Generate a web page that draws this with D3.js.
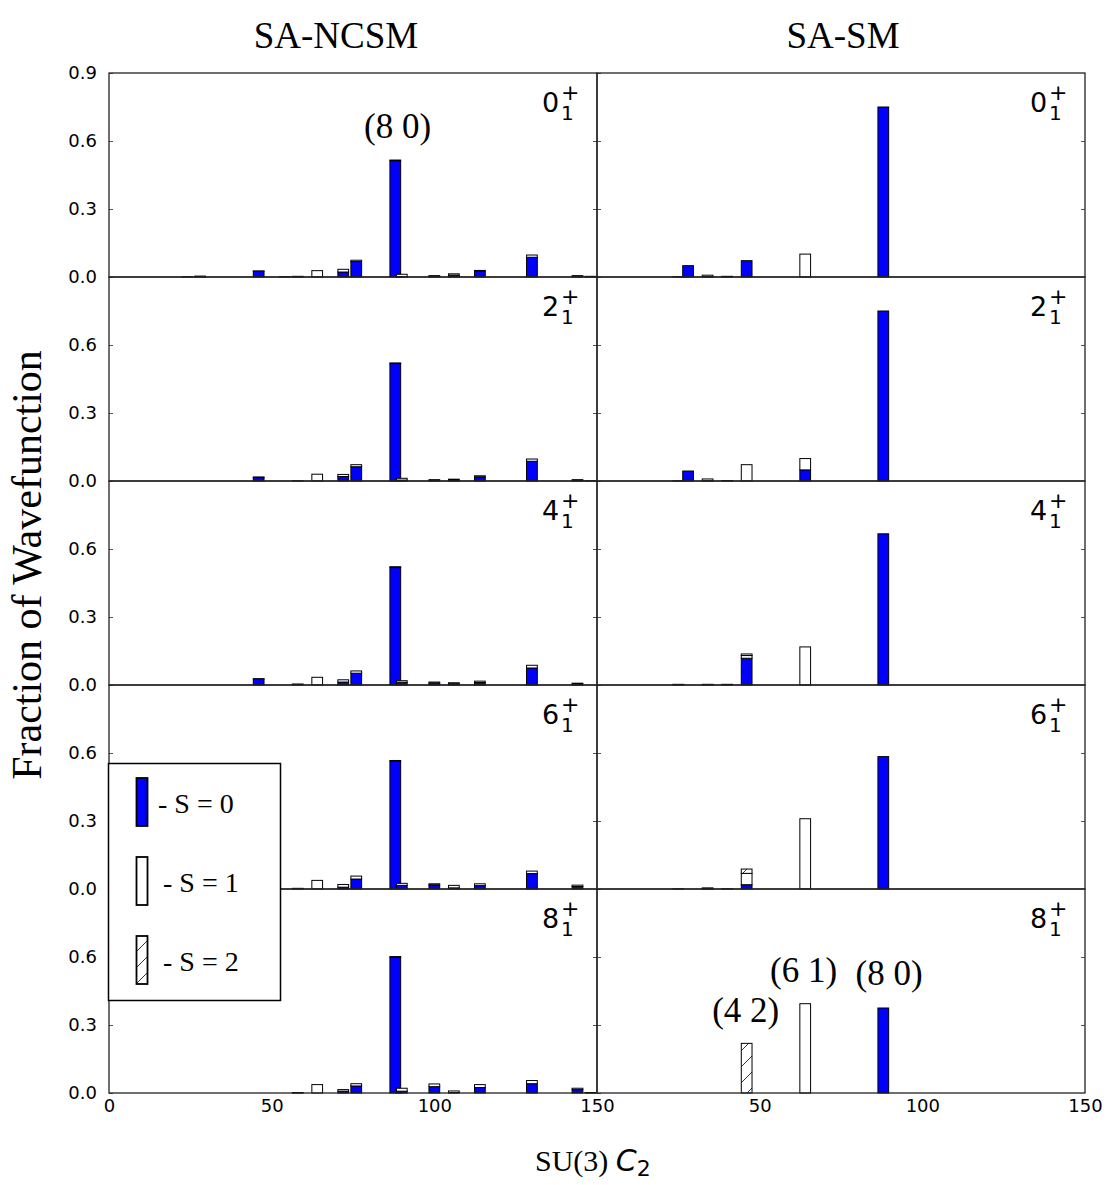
<!DOCTYPE html>
<html>
<head>
<meta charset="utf-8">
<script src="https://cdn.jsdelivr.net/npm/d3@7"></script>
<style>
  body { margin: 0; background: #fff; }
  svg { display: block; }
  .tick text { font-family: "DejaVu Sans", sans-serif; font-size: 18px; fill: #000; }
  .tick line { stroke: #555; }
</style>
</head>
<body>
<svg id="chart"></svg>
<script>
// SU(3) C2 values of the basis irreps shown in each column
const ncsmC2 = [24, 28, 46, 54, 58, 64, 72, 76, 88, 90, 100, 106, 114, 130, 144, 148];
const smC2 = [25, 28, 34, 40, 46, 64, 88];

const columns = ["SA-NCSM", "SA-SM"];
const states = ["0", "2", "4", "6", "8"];

// fractions per state (rows 0+,2+,4+,6+,8+), aligned with ncsmC2
const ncsmS0 = [
  [0.001, 0.002, 0.025, 0.001, 0.002, 0, 0.022, 0.068, 0.513, 0.002, 0.003, 0.008, 0.027, 0.087, 0.003, 0.002],
  [0, 0, 0.015, 0, 0.001, 0, 0.020, 0.063, 0.518, 0.004, 0.002, 0.004, 0.018, 0.087, 0.002, 0.001],
  [0, 0, 0.026, 0, 0.003, 0, 0.013, 0.052, 0.518, 0.012, 0.008, 0.005, 0.011, 0.075, 0.004, 0],
  [0, 0, 0.020, 0, 0.002, 0, 0.008, 0.044, 0.563, 0.016, 0.018, 0.005, 0.015, 0.068, 0.011, 0],
  [0, 0, 0, 0, 0.001, 0, 0.008, 0.031, 0.598, 0.008, 0.028, 0.002, 0.024, 0.041, 0.015, 0.001]
];
const ncsmS1 = [
  [0, 0.002, 0.002, 0, 0.001, 0.028, 0.012, 0.006, 0.003, 0.010, 0.003, 0.006, 0.002, 0.010, 0.003, 0.001],
  [0, 0, 0.003, 0, 0, 0.030, 0.009, 0.009, 0.003, 0.008, 0.004, 0.004, 0.005, 0.010, 0.004, 0],
  [0, 0, 0.002, 0, 0.001, 0.034, 0.010, 0.010, 0.004, 0.007, 0.005, 0.005, 0.006, 0.012, 0.004, 0],
  [0, 0, 0.003, 0, 0.001, 0.038, 0.012, 0.013, 0.004, 0.009, 0.005, 0.011, 0.008, 0.011, 0.006, 0],
  [0, 0, 0, 0, 0.001, 0.037, 0.007, 0.010, 0.004, 0.013, 0.012, 0.007, 0.013, 0.014, 0.006, 0.001]
];
const ncsmS2 = [
  [0, 0, 0, 0, 0, 0, 0, 0, 0, 0, 0, 0, 0, 0, 0, 0],
  [0, 0, 0, 0, 0, 0, 0, 0, 0, 0, 0, 0, 0, 0, 0, 0],
  [0, 0, 0, 0, 0, 0, 0, 0, 0, 0, 0, 0, 0, 0, 0, 0],
  [0, 0, 0, 0, 0, 0, 0, 0, 0, 0, 0, 0, 0, 0, 0, 0],
  [0, 0, 0, 0, 0, 0, 0, 0, 0, 0, 0, 0, 0, 0, 0, 0]
];

const smS0 = [
  [0.001, 0.050, 0.002, 0.003, 0.072, 0, 0.750],
  [0.001, 0.044, 0.001, 0.002, 0, 0.049, 0.750],
  [0.002, 0, 0.002, 0.002, 0.118, 0, 0.667],
  [0.001, 0, 0.001, 0.001, 0.019, 0, 0.584],
  [0, 0, 0, 0, 0, 0, 0.375]
];
const smS1 = [
  [0, 0, 0.006, 0, 0, 0.101, 0],
  [0, 0, 0.008, 0, 0.072, 0.050, 0],
  [0.001, 0, 0.001, 0.001, 0.012, 0.168, 0],
  [0, 0, 0.004, 0, 0.050, 0.310, 0],
  [0, 0, 0, 0, 0, 0.394, 0]
];
const smS2 = [
  [0, 0, 0, 0, 0, 0, 0],
  [0, 0, 0, 0, 0, 0, 0],
  [0, 0, 0, 0, 0.007, 0, 0],
  [0, 0, 0, 0, 0.019, 0, 0],
  [0, 0, 0, 0, 0.219, 0, 0]
];

// irrep labels: [text, column, row, C2, fraction]
const irrepLabels = [
  ["(8 0)", 0, 0, 88.7, 0.612],
  ["(4 2)", 1, 4, 45.7, 0.315],
  ["(6 1)", 1, 4, 63.5, 0.491],
  ["(8 0)", 1, 4, 89.8, 0.476]
];

const legendItems = ["- S = 0", "- S = 1", "- S = 2"];

// layout
const width = 1110;
const height = 1185;
const colLeft = [109, 597];
const colWidth = 488;
const titleX = [336, 843];
const rowTop = 73;
const rowHeight = 204;
const barWidth = 3.3;
const keys = ["s0", "s1", "s2"];
const fills = { s0: "#0000ff", s1: "#ffffff", s2: "url(#hatch)" };
const serif = "Liberation Serif, Times New Roman, serif";

const svg = d3.select("#chart").attr("width", width).attr("height", height);

const defs = svg.append("defs");
const hatch = defs.append("pattern")
  .attr("id", "hatch")
  .attr("patternUnits", "userSpaceOnUse")
  .attr("width", 16)
  .attr("height", 16);
hatch.append("rect").attr("width", 16).attr("height", 16).attr("fill", "#fff");
hatch.append("path")
  .attr("d", "M0,16 L16,0 M-4,4 L4,-4 M12,20 L20,12")
  .attr("stroke", "#333")
  .attr("stroke-width", 1);

const stack = d3.stack().keys(keys);

const panelData = (col, row) => {
  const c2 = col === 0 ? ncsmC2 : smC2;
  const s0 = col === 0 ? ncsmS0[row] : smS0[row];
  const s1 = col === 0 ? ncsmS1[row] : smS1[row];
  const s2 = col === 0 ? ncsmS2[row] : smS2[row];
  return c2.map((c, i) => ({ c2: c, s0: s0[i], s1: s1[i], s2: s2[i] }));
};

const scales = {};

columns.forEach((name, col) => {
  const x = d3.scaleLinear()
    .domain([0, 150])
    .range([colLeft[col], colLeft[col] + colWidth]);

  states.forEach((st, row) => {
    const top = rowTop + row * rowHeight;
    const y = d3.scaleLinear().domain([0, 0.9]).range([top + rowHeight, top]);
    scales[col + "-" + row] = { x, y };

    const g = svg.append("g").attr("class", "panel");

    // bars
    const series = stack(panelData(col, row));
    series.forEach((s) => {
      g.append("g")
        .selectAll("rect")
        .data(s.filter((d) => d[1] - d[0] > 0))
        .enter()
        .append("rect")
        .attr("x", (d) => x(d.data.c2 - barWidth / 2))
        .attr("width", (d) => x(barWidth) - x(0))
        .attr("y", (d) => y(d[1]))
        .attr("height", (d) => y(d[0]) - y(d[1]))
        .attr("fill", fills[s.key])
        .attr("stroke", "#000")
        .attr("stroke-width", 1);
    });

    // y axes (inward ticks on both sides)
    const yTicks = row === 0 ? [0, 0.3, 0.6, 0.9] : [0, 0.3, 0.6];
    const left = d3.axisLeft(y)
      .tickValues(yTicks)
      .tickSize(-4)
      .tickPadding(12)
      .tickFormat(col === 0 ? d3.format(".1f") : () => "");
    g.append("g")
      .attr("transform", "translate(" + x.range()[0] + ",0)")
      .call(left)
      .call((a) => a.select(".domain").remove());
    g.append("g")
      .attr("transform", "translate(" + x.range()[1] + ",0)")
      .call(d3.axisRight(y).tickValues([0.3, 0.6]).tickSize(-4).tickFormat(() => ""))
      .call((a) => a.select(".domain").remove());

    // x axis on the bottom row
    if (row === states.length - 1) {
      g.append("g")
        .attr("transform", "translate(0," + (top + rowHeight) + ")")
        .call(d3.axisBottom(x)
          .tickValues(col === 0 ? [0, 50, 100, 150] : [50, 100, 150])
          .tickSize(0)
          .tickPadding(6))
        .call((a) => a.select(".domain").remove());
    }

    // frame
    g.append("rect")
      .attr("x", x.range()[0])
      .attr("y", top)
      .attr("width", colWidth)
      .attr("height", rowHeight)
      .attr("fill", "none")
      .attr("stroke", "#222")
      .attr("stroke-width", 1.3);

    // state label J_1^+ as one text with sub/superscript
    const lx = x.range()[1] - 55;
    const lab = g.append("text")
      .attr("x", lx)
      .attr("y", top + 38.5)
      .attr("font-family", "DejaVu Sans, sans-serif")
      .attr("font-size", 27)
      .attr("fill", "#000");
    lab.append("tspan").text(st);
    lab.append("tspan")
      .attr("x", lx + 19)
      .attr("y", top + 47)
      .attr("font-size", 20)
      .text("1");
    lab.append("tspan")
      .attr("x", lx + 19)
      .attr("y", top + 27)
      .attr("font-size", 22)
      .text("+");
  });

  // column title
  svg.append("text")
    .attr("x", titleX[col])
    .attr("y", 48)
    .attr("text-anchor", "middle")
    .attr("font-family", serif)
    .attr("font-size", 37)
    .text(name);
});

// irrep annotations
irrepLabels.forEach(([t, col, row, c2, v]) => {
  const s = scales[col + "-" + row];
  svg.append("text")
    .attr("x", s.x(c2))
    .attr("y", s.y(v))
    .attr("text-anchor", "middle")
    .attr("font-family", serif)
    .attr("font-size", 35)
    .text(t);
});

// axis titles
svg.append("text")
  .attr("transform", "translate(41,565) rotate(-90)")
  .attr("text-anchor", "middle")
  .attr("font-family", serif)
  .attr("font-size", 42)
  .text("Fraction of Wavefunction");

const xl = svg.append("text")
  .attr("x", 535)
  .attr("y", 1171)
  .attr("font-family", serif)
  .attr("font-size", 30);
xl.append("tspan").text("SU(3) ");
xl.append("tspan")
  .attr("font-family", "DejaVu Sans, sans-serif")
  .attr("font-style", "italic")
  .attr("font-size", 30)
  .text("C");
xl.append("tspan")
  .attr("font-family", "DejaVu Sans, sans-serif")
  .attr("font-size", 22)
  .attr("dy", 5)
  .text("2");

// legend
const legend = svg.append("g");
legend.append("rect")
  .attr("x", 108.5)
  .attr("y", 763.5)
  .attr("width", 172)
  .attr("height", 237)
  .attr("fill", "#fff")
  .attr("stroke", "#000")
  .attr("stroke-width", 1.5);
legendItems.forEach((t, i) => {
  const yy = 778 + i * 79;
  legend.append("rect")
    .attr("x", 136.5)
    .attr("y", yy)
    .attr("width", 11)
    .attr("height", 48)
    .attr("fill", fills[keys[i]])
    .attr("stroke", "#000")
    .attr("stroke-width", 1.8);
  legend.append("text")
    .attr("x", i === 0 ? 158 : 163)
    .attr("y", yy + 35)
    .attr("font-family", serif)
    .attr("font-size", 28)
    .text(t);
});
</script>
</body>
</html>
